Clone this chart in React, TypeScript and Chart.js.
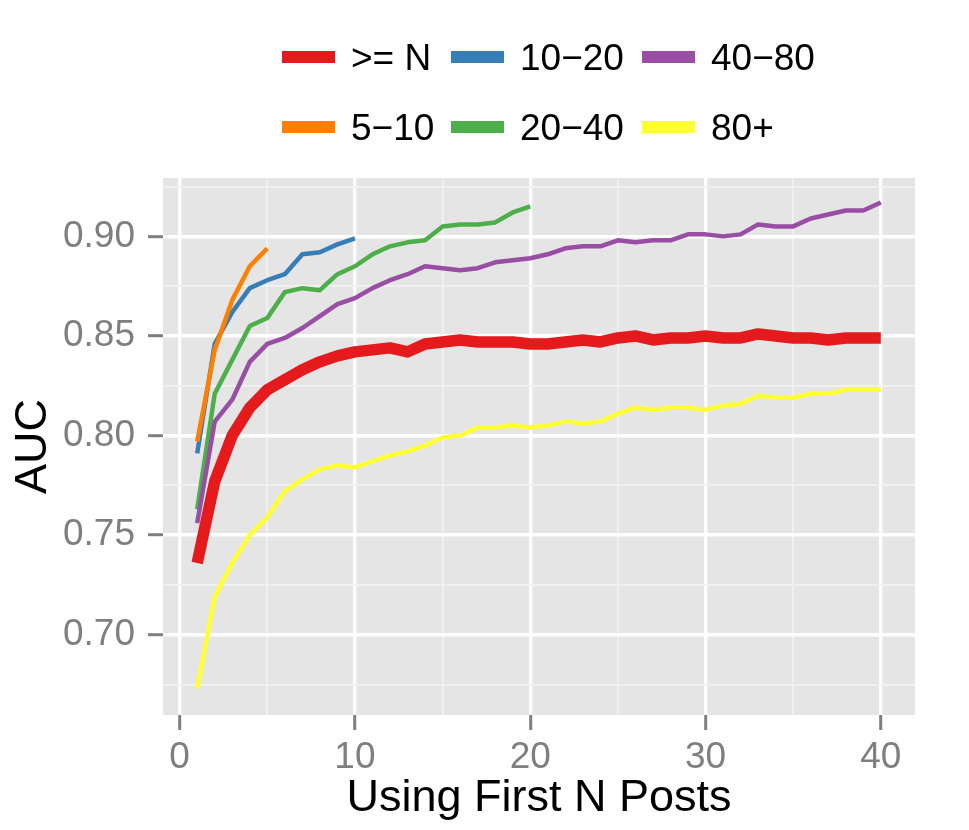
import React, { useEffect, useRef } from 'react';
import { Chart, registerables } from 'chart.js';

Chart.register(...registerables);

// Eje X: número de posts usados
const firstNPosts = [
  1, 2, 3, 4, 5, 6, 7, 8, 9, 10,
  11, 12, 13, 14, 15, 16, 17, 18, 19, 20,
  21, 22, 23, 24, 25, 26, 27, 28, 29, 30,
  31, 32, 33, 34, 35, 36, 37, 38, 39, 40,
];

// AUC por grupo
const aucAll = [
  0.736, 0.777, 0.800, 0.814, 0.823, 0.828, 0.833, 0.837, 0.840, 0.842,
  0.843, 0.844, 0.842, 0.846, 0.847, 0.848, 0.847, 0.847, 0.847, 0.846,
  0.846, 0.847, 0.848, 0.847, 0.849, 0.850, 0.848, 0.849, 0.849, 0.850,
  0.849, 0.849, 0.851, 0.850, 0.849, 0.849, 0.848, 0.849, 0.849, 0.849,
];
const auc5to10 = [0.797, 0.843, 0.868, 0.885, 0.894];
const auc10to20 = [0.791, 0.846, 0.862, 0.874, 0.878, 0.881, 0.891, 0.892, 0.896, 0.899];
const auc20to40 = [
  0.763, 0.821, 0.838, 0.855, 0.859, 0.872, 0.874, 0.873, 0.881, 0.885,
  0.891, 0.895, 0.897, 0.898, 0.905, 0.906, 0.906, 0.907, 0.912, 0.915,
];
const auc40to80 = [
  0.756, 0.807, 0.818, 0.837, 0.846, 0.849, 0.854, 0.860, 0.866, 0.869,
  0.874, 0.878, 0.881, 0.885, 0.884, 0.883, 0.884, 0.887, 0.888, 0.889,
  0.891, 0.894, 0.895, 0.895, 0.898, 0.897, 0.898, 0.898, 0.901, 0.901,
  0.900, 0.901, 0.906, 0.905, 0.905, 0.909, 0.911, 0.913, 0.913, 0.917,
];
const auc80plus = [
  0.673, 0.719, 0.736, 0.750, 0.759, 0.772, 0.778, 0.783, 0.785, 0.784,
  0.787, 0.790, 0.792, 0.795, 0.799, 0.800, 0.804, 0.804, 0.805, 0.804,
  0.805, 0.807, 0.806, 0.807, 0.811, 0.814, 0.813, 0.814, 0.814, 0.813,
  0.815, 0.816, 0.820, 0.819, 0.819, 0.821, 0.821, 0.823, 0.823, 0.823,
];

// Ticks
const xMajorTicks = [0, 10, 20, 30, 40];
const xMinorTicks = [5, 15, 25, 35];
const yMajorTicks = [0.70, 0.75, 0.80, 0.85, 0.90];
const yMinorTicks = [0.675, 0.725, 0.775, 0.825, 0.875, 0.925];

const FONT = '"Liberation Sans", Arial, Helvetica, sans-serif';
const GREY_TEXT = '#7F7F7F';

const series = [
  { label: '>= N', data: aucAll, color: '#E41A1C', width: 11.5, order: 0 },
  { label: '5\u221210', data: auc5to10, color: '#FF7F00', width: 4.5, order: 2 },
  { label: '10\u221220', data: auc10to20, color: '#377EB8', width: 4.5, order: 5 },
  { label: '20\u221240', data: auc20to40, color: '#4DAF4A', width: 4.5, order: 4 },
  { label: '40\u221280', data: auc40to80, color: '#984EA3', width: 4.5, order: 3 },
  { label: '80+', data: auc80plus, color: '#FFFF33', width: 4.5, order: 1 },
];

// Leyenda en 3 columnas x 2 filas (por columnas)
const legendCols = [282, 451, 642];
const legendRows = [57, 127];

const isIn = (arr: number[], v: number) => arr.some(m => Math.abs(m - v) < 1e-9);

const panelBackground = {
  id: 'panelBackground',
  beforeDraw(chart: any) {
    const { ctx, chartArea } = chart;
    if (!chartArea) return;
    ctx.save();
    ctx.fillStyle = '#E5E5E5';
    ctx.fillRect(chartArea.left, chartArea.top, chartArea.right - chartArea.left, chartArea.bottom - chartArea.top);
    ctx.restore();
  },
};

const App: React.FC = () => {
  const canvasRef = useRef<HTMLCanvasElement>(null);
  const chartRef = useRef<Chart | null>(null);

  useEffect(() => {
    if (!canvasRef.current) return;
    const ctx = canvasRef.current.getContext('2d');
    if (!ctx) return;

    const gridFor = (majors: number[]) => ({
      color: (c: any) => (c.tick && isIn(majors, c.tick.value) ? '#FFFFFF' : '#F2F2F2'),
      lineWidth: (c: any) => (c.tick && isIn(majors, c.tick.value) ? 3.4 : 1.7),
      tickColor: (c: any) => (c.tick && isIn(majors, c.tick.value) ? GREY_TEXT : 'rgba(0,0,0,0)'),
      tickWidth: 3,
      tickLength: 15,
      drawTicks: true,
    });

    chartRef.current = new Chart(ctx, {
      type: 'line',
      data: {
        datasets: series.map(s => ({
          label: s.label,
          data: s.data.map((v, i) => ({ x: firstNPosts[i], y: v })),
          borderColor: s.color,
          backgroundColor: s.color,
          borderWidth: s.width,
          borderCapStyle: 'butt' as const,
          borderJoinStyle: 'round' as const,
          pointRadius: 0,
          tension: 0,
          fill: false,
          order: s.order,
        })),
      },
      options: {
        animation: false,
        responsive: true,
        maintainAspectRatio: false,
        layout: { padding: { left: 0, top: 178, right: 54, bottom: 0 } },
        plugins: {
          legend: { display: false },
          tooltip: { enabled: false },
        },
        scales: {
          x: {
            type: 'linear',
            min: -0.95,
            max: 41.95,
            afterBuildTicks: (axis: any) => {
              axis.ticks = [...xMajorTicks, ...xMinorTicks].sort((a, b) => a - b).map(v => ({ value: v }));
            },
            afterFit: (axis: any) => { axis.height = 115; },
            ticks: {
              autoSkip: false,
              maxRotation: 0,
              padding: 6,
              color: GREY_TEXT,
              font: { family: FONT, size: 37 },
              callback: (v: any) => (isIn(xMajorTicks, Number(v)) ? String(v) : ''),
            },
            grid: gridFor(xMajorTicks),
            border: { display: false },
            title: {
              display: true,
              text: 'Using First N Posts',
              color: '#000000',
              font: { family: FONT, size: 45 },
              padding: { top: 0, bottom: 4 },
            },
          },
          y: {
            type: 'linear',
            min: 0.6597,
            max: 0.9293,
            afterBuildTicks: (axis: any) => {
              axis.ticks = [...yMajorTicks, ...yMinorTicks].sort((a, b) => a - b).map(v => ({ value: v }));
            },
            afterFit: (axis: any) => { axis.width = 163; },
            ticks: {
              autoSkip: false,
              padding: 13,
              color: GREY_TEXT,
              font: { family: FONT, size: 37 },
              callback: (v: any) => (isIn(yMajorTicks, Number(v)) ? Number(v).toFixed(2) : ''),
            },
            grid: gridFor(yMajorTicks),
            border: { display: false },
            title: {
              display: true,
              text: 'AUC',
              color: '#000000',
              font: { family: FONT, size: 45 },
              padding: { top: 7, bottom: 0 },
            },
          },
        },
      },
      plugins: [panelBackground],
    });

    return () => {
      if (chartRef.current) {
        chartRef.current.destroy();
        chartRef.current = null;
      }
    };
  }, []);

  return (
    <div style={{ position: 'absolute', left: 0, top: 0, width: 969, height: 830, background: '#FFFFFF', overflow: 'hidden' }}>
      <canvas ref={canvasRef}></canvas>
      {series.map((s, i) => {
        const col = Math.floor(i / 2);
        const row = i % 2;
        return (
          <div
            key={s.label}
            style={{
              position: 'absolute',
              left: legendCols[col],
              top: legendRows[row] - 25,
              height: 50,
              display: 'flex',
              alignItems: 'center',
              fontFamily: FONT,
              fontSize: 37,
              color: '#000000',
              whiteSpace: 'nowrap',
            }}
          >
            <div style={{ width: 53, height: 12.5, background: s.color, marginRight: 16 }}></div>
            <span style={{ lineHeight: 1 }}>{s.label}</span>
          </div>
        );
      })}
    </div>
  );
};

export default App;
